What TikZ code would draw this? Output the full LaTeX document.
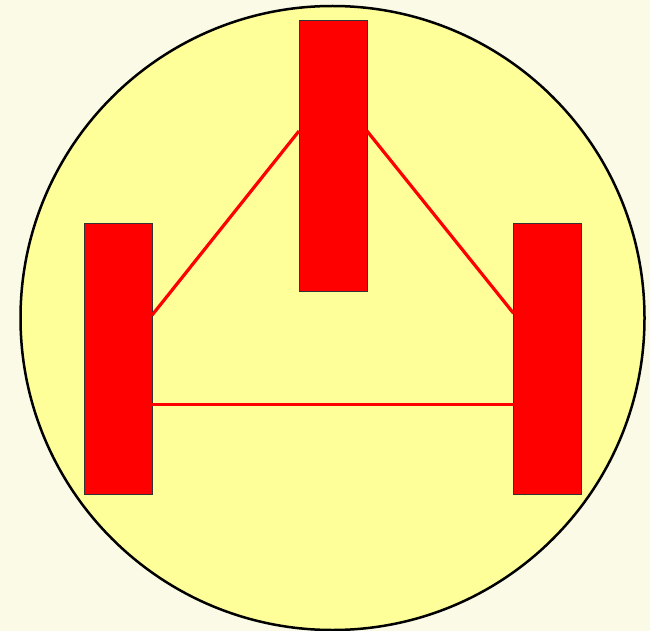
\documentclass[tikz,border=0pt]{standalone}
\definecolor{bgcol}{HTML}{FAFAE6}
\definecolor{circfill}{HTML}{FFFF99}
\definecolor{redfill}{HTML}{FF0000}
\begin{document}
\begin{tikzpicture}[x=1pt,y=-1pt,
  wheel/.style={draw=black!80, line width=0.8pt, fill=redfill, minimum width=68pt, minimum height=271pt, inner sep=0pt, outer sep=0pt},
  link/.style={draw=redfill, line width=3.2pt}]
\fill[bgcol] (0,0) rectangle (650,631);
\useasboundingbox (0,0) rectangle (650,631);
\node[draw=black, line width=2.5pt, fill=circfill, circle, minimum size=624pt, inner sep=0pt] (body) at (332.5,318) {};
\node[wheel] (top) at (333,155.5) {};
\node[wheel] (left) at (118,358.75) {};
\node[wheel] (right) at (547.5,358.75) {};
\coordinate (t1) at ([yshift=-111pt]top.north west);
\coordinate (t2) at ([yshift=-111pt]top.north east);
\coordinate (l1) at ([yshift=-92pt]left.north east);
\coordinate (l2) at ([yshift=-181pt]left.north east);
\coordinate (r1) at ([yshift=-90pt]right.north west);
\coordinate (r2) at ([yshift=-181pt]right.north west);
\draw[link] (t1) -- (l1);
\draw[link] (t2) -- (r1);
\draw[link] (l2) -- (r2);
\end{tikzpicture}
\end{document}
